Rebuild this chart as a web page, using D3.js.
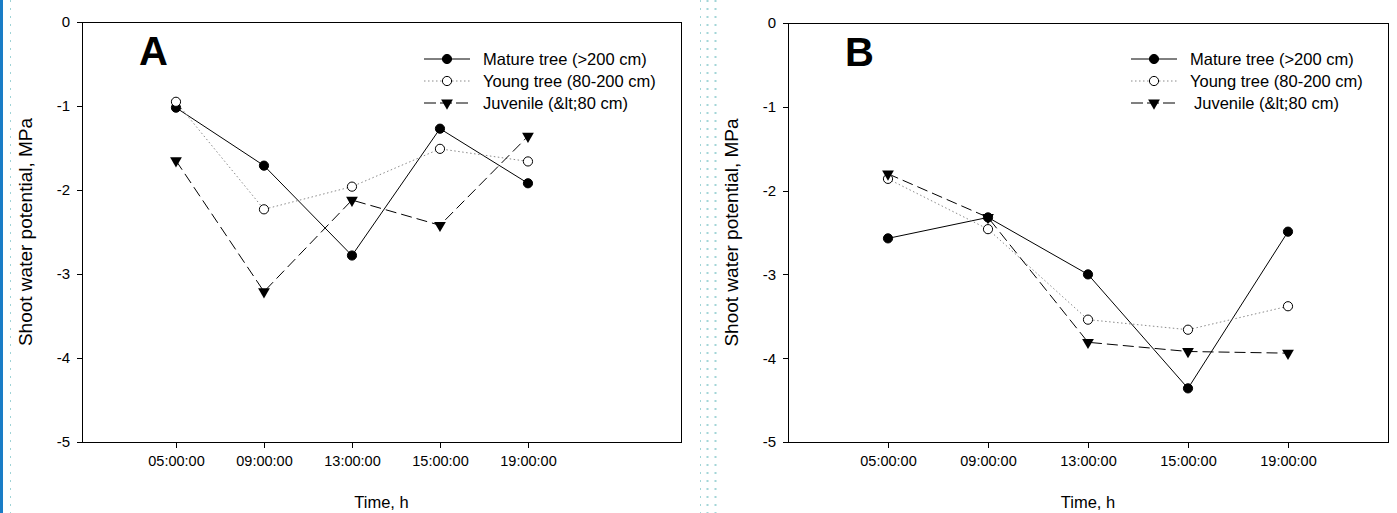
<!DOCTYPE html>
<head>
<meta charset="utf-8">
</head>
<style>
  body { margin: 0; background: #fff; }
  svg { display: block; font-family: "Liberation Sans", Arial, sans-serif; }
  .axis path { display: none; }
  .axis line { stroke: #000; shape-rendering: crispEdges; }
  .axis text { fill: #000; }
  .frame { fill: none; stroke: #000; shape-rendering: crispEdges; }
</style>
<body>
<script src="https://d3js.org/d3.v7.min.js"></script>
<script>

// tick labels and categories
var times = ["05:00:00", "09:00:00", "13:00:00", "15:00:00", "19:00:00"]
var yTicks = [0, -1, -2, -3, -4, -5]
var seriesNames = ["Mature tree (>200 cm)", "Young tree (80-200 cm)", "Juvenile (&lt;80 cm)"]

// panel A
var matureA   = [-1.02, -1.71, -2.78, -1.27, -1.92]
var youngA    = [-0.95, -2.23, -1.96, -1.51, -1.66]
var juvenileA = [-1.65, -3.21, -2.12, -2.42, -1.36]

// panel B
var matureB   = [-2.57, -2.32, -3.00, -4.36, -2.49]
var youngB    = [-1.86, -2.46, -3.54, -3.66, -3.38]
var juvenileB = [-1.80, -2.32, -3.81, -3.92, -3.94]

var W = 1397, H = 513

var svg = d3.select("body").append("svg")
    .attr("width", W)
    .attr("height", H)

// page decorations: blue bar on the left, dotted guides
svg.append("rect").attr("x", 0).attr("y", 0).attr("width", 3).attr("height", H).attr("fill", "#1a7cc6")
svg.append("line").attr("x1", 10.5).attr("x2", 10.5).attr("y1", 0).attr("y2", H)
    .attr("stroke", "#9fd3d6").attr("stroke-dasharray", "2,6")
;[700.5, 707.5, 715.5].forEach(function(xx, i) {
  svg.append("line").attr("x1", xx).attr("x2", xx).attr("y1", 0).attr("y2", H)
      .attr("stroke", "#a3d6d8").attr("stroke-width", i == 0 ? 1 : 2)
      .attr("stroke-dasharray", "2,6")
})

var styles = [
  {dash: null, stroke: "#000", marker: "filled"},
  {dash: "1.5,2.5", stroke: "#8a8a8a", marker: "open"},
  {dash: "11,5", stroke: "#000", marker: "tri"}
]

var tri = d3.symbol().type(d3.symbolTriangle).size(60)

function drawMarker(g, kind, cx, cy) {
  if (kind == "tri") {
    g.append("path").attr("d", tri())
        .attr("transform", "translate(" + cx + "," + cy + ") rotate(180)")
        .attr("fill", "#000")
  } else {
    g.append("circle").attr("cx", cx).attr("cy", cy).attr("r", 4.6)
        .attr("fill", kind == "filled" ? "#000" : "#fff")
        .attr("stroke", "#000").attr("stroke-width", 1)
  }
}

function drawPanel(p) {
  var g = svg.append("g")

  var x = d3.scaleLinear().domain(p.xDomain).range([p.left, p.right])
  var y = d3.scaleLinear().domain([0, -5]).range([p.top, p.bottom])

  var xAxis = d3.axisBottom(x)
      .tickValues([1, 2, 3, 4, 5])
      .tickFormat(function(i) { return times[i - 1] })
      .tickSize(6)
      .tickPadding(8)

  // plain hyphen for negatives, like the original
  var yAxis = d3.axisLeft(y)
      .tickValues(yTicks)
      .tickFormat(function(d) { return String(d) })
      .tickSize(5)
      .tickPadding(7)

  g.append("g")
      .attr("class", "x axis")
      .attr("transform", "translate(0," + p.bottom + ")")
      .call(xAxis)
      .selectAll("text").style("font-size", "14.5px")

  g.append("g")
      .attr("class", "y axis")
      .attr("transform", "translate(" + p.left + ",0)")
      .call(yAxis)
      .selectAll("text").style("font-size", "15px")

  g.append("rect")
      .attr("class", "frame")
      .attr("x", p.left + 0.5)
      .attr("y", p.top + 0.5)
      .attr("width", p.right - p.left)
      .attr("height", p.bottom - p.top)

  // axis titles
  g.append("text")
      .attr("x", (p.left + p.right) / 2)
      .attr("y", 508)
      .attr("text-anchor", "middle")
      .style("font-size", "16.5px")
      .text("Time, h")

  g.append("text")
      .attr("transform", "translate(" + (p.left - 50) + "," + ((p.top + p.bottom) / 2) + ") rotate(-90)")
      .attr("text-anchor", "middle")
      .style("font-size", "19px")
      .text("Shoot water potential, MPa")

  // panel letter
  g.append("text")
      .attr("x", p.left + 57)
      .attr("y", p.top + 43)
      .style("font-size", "40px")
      .style("font-weight", "bold")
      .text(p.letter)

  var line = d3.line()
      .x(function(d, i) { return x(i + 1) })
      .y(function(d) { return y(d) })

  p.series.forEach(function(vals, k) {
    var s = styles[k]
    g.append("path")
        .datum(vals)
        .attr("d", line)
        .attr("fill", "none")
        .attr("stroke", s.stroke)
        .attr("stroke-width", 1)
        .attr("stroke-dasharray", s.dash)
  })

  p.series.forEach(function(vals, k) {
    vals.forEach(function(v, i) {
      drawMarker(g, styles[k].marker, x(i + 1), y(v))
    })
  })

  // legend
  var lg = g.append("g")
  seriesNames.forEach(function(name, k) {
    var ly = p.legendY + k * 22
    var s = styles[k]
    lg.append("line")
        .attr("x1", p.legendX - 23).attr("x2", p.legendX + 23)
        .attr("y1", ly).attr("y2", ly)
        .attr("stroke", s.stroke)
        .attr("stroke-dasharray", k == 2 ? "12,4" : s.dash)
    drawMarker(lg, s.marker, p.legendX, ly)
    lg.append("text")
        .attr("x", p.legendX + 36 + (k == 2 ? p.juvShift : 0))
        .attr("y", ly)
        .attr("dy", "0.35em")
        .style("font-size", "16.5px")
        .text(name)
  })
}

drawPanel({
  left: 82, right: 681, top: 22, bottom: 442,
  xDomain: [-0.068, 6.739],
  letter: "A",
  legendX: 447, legendY: 59, juvShift: 0,
  series: [matureA, youngA, juvenileA]
})

drawPanel({
  left: 788, right: 1388, top: 23, bottom: 442,
  xDomain: [0, 6],
  letter: "B",
  legendX: 1154, legendY: 59, juvShift: 4,
  series: [matureB, youngB, juvenileB]
})

</script>
</body>
